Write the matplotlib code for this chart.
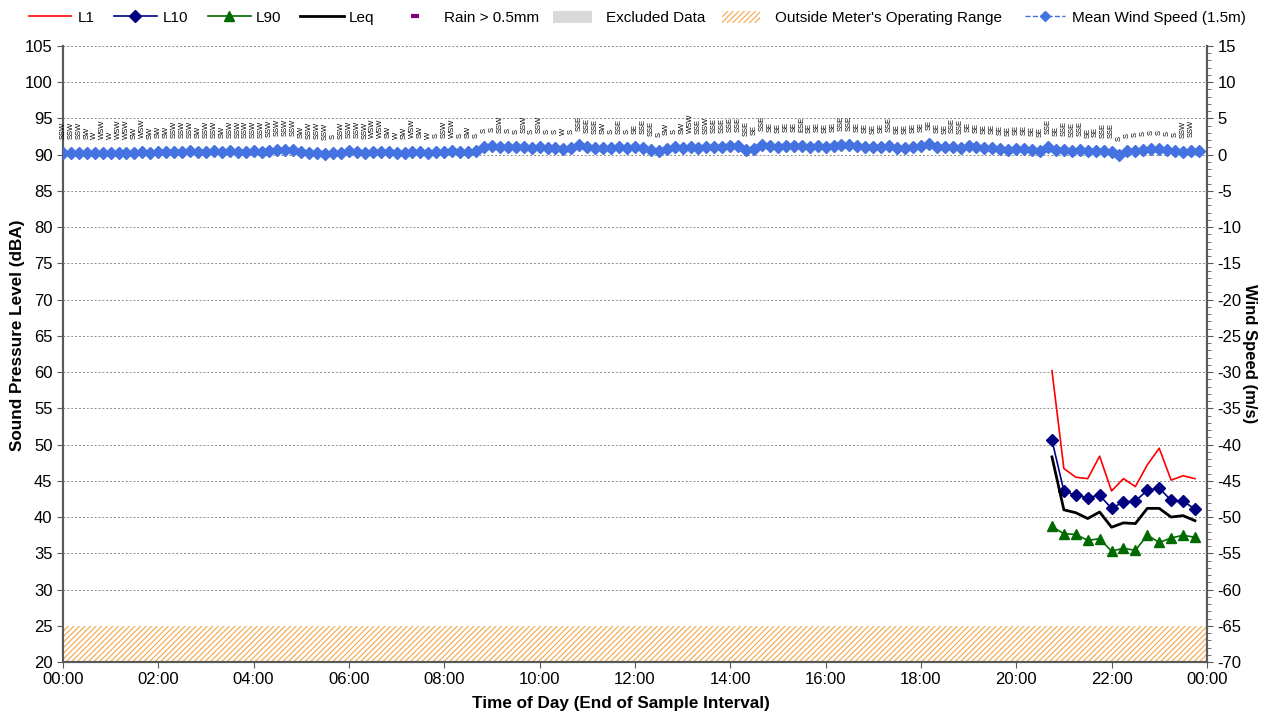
import matplotlib
matplotlib.use("Agg")
import matplotlib.pyplot as plt
import numpy as np
from matplotlib.lines import Line2D
from matplotlib.patches import Patch
from matplotlib.ticker import MultipleLocator

plt.rcParams["font.family"] = ["Liberation Sans", "DejaVu Sans"]
plt.rcParams["axes.unicode_minus"] = False
plt.rcParams["hatch.linewidth"] = 0.8

# sound levels, 15 minute intervals (end of interval)
sound_times = ["20:45", "21:00", "21:15", "21:30", "21:45", "22:00", "22:15",
               "22:30", "22:45", "23:00", "23:15", "23:30", "23:45"]
l1 = [60.2, 46.7, 45.5, 45.3, 48.4, 43.6, 45.3, 44.2, 47.2, 49.5, 45.1, 45.7, 45.3]
l10 = [50.6, 43.6, 43.0, 42.7, 43.0, 41.2, 42.1, 42.2, 43.7, 44.0, 42.3, 42.2, 41.1]
l90 = [38.7, 37.7, 37.6, 36.8, 37.0, 35.3, 35.7, 35.4, 37.5, 36.5, 37.1, 37.5, 37.2]
leq = [48.3, 41.0, 40.6, 39.8, 40.7, 38.6, 39.2, 39.1, 41.2, 41.2, 40.0, 40.2, 39.5]

# wind, 10 minute intervals from 00:00
wind_speed = [
    0.20, 0.25, 0.20, 0.30, 0.25, 0.20, 0.30, 0.30, 0.25, 0.30, 0.35, 0.30,
    0.35, 0.40, 0.35, 0.40, 0.45, 0.40, 0.40, 0.45, 0.40, 0.45, 0.40, 0.40,
    0.45, 0.40, 0.50, 0.60, 0.70, 0.60, 0.40, 0.30, 0.20, 0.15, 0.20, 0.30,
    0.45, 0.40, 0.30, 0.35, 0.40, 0.35, 0.30, 0.25, 0.35, 0.40, 0.30, 0.35,
    0.40, 0.45, 0.40, 0.35, 0.45, 1.10, 1.20, 1.05, 1.10, 1.00, 1.10, 0.95,
    1.05, 0.90, 0.95, 0.85, 0.90, 1.30, 1.10, 0.95, 0.90, 0.95, 1.00, 0.90,
    1.00, 0.95, 0.70, 0.50, 0.80, 1.00, 0.90, 1.10, 0.95, 1.00, 1.05, 1.10,
    1.20, 1.15, 0.65, 0.80, 1.30, 1.20, 1.10, 1.20, 1.15, 1.25, 1.10, 1.20,
    1.10, 1.20, 1.30, 1.35, 1.20, 1.10, 1.00, 1.10, 1.20, 0.90, 0.95, 1.10,
    1.20, 1.50, 1.10, 1.00, 1.05, 0.95, 1.15, 1.05, 0.90, 0.90, 0.80, 0.70,
    0.80, 0.80, 0.70, 0.55, 1.00, 0.70, 0.70, 0.55, 0.70, 0.45, 0.55, 0.45,
    0.35, 0.00, 0.45, 0.55, 0.70, 0.80, 0.80, 0.70, 0.55, 0.35, 0.55, 0.45,
]
wind_dir = [
    "SSW", "SSW", "SSW", "SW", "W", "WSW", "W", "WSW", "WSW", "SW", "WSW", "SW",
    "SW", "SW", "SSW", "SSW", "SSW", "SW", "SSW", "SSW", "SW", "SSW", "SSW", "SSW",
    "SSW", "SSW", "SSW", "SSW", "SSW", "SSW", "SW", "SSW", "SSW", "SSW", "S", "SSW",
    "SSW", "SSW", "SSW", "WSW", "WSW", "SW", "W", "SW", "WSW", "SW", "W", "S",
    "SSW", "WSW", "S", "SW", "S", "S", "S", "SSW", "S", "S", "SSW", "S",
    "SSW", "S", "S", "W", "S", "SSE", "SSE", "SSE", "SW", "S", "SSE", "S",
    "SE", "SSE", "SSE", "S", "SW", "S", "SW", "WSW", "SSE", "SSW", "SSE", "SSE",
    "SSE", "SSE", "SSE", "SE", "SSE", "SE", "SE", "SE", "SE", "ESE", "SE", "SE",
    "SE", "SE", "SSE", "SSE", "SE", "SE", "SE", "SE", "SSE", "SE", "SE", "SE",
    "SE", "SE", "SE", "SE", "SSE", "SSE", "SE", "SE", "SE", "SE", "SE", "SE",
    "SE", "SE", "SE", "SE", "SSE", "SE", "SSE", "SSE", "SSE", "SE", "SE", "SSE",
    "SSE", "S", "S", "S", "S", "S", "S", "S", "S", "SSW", "SSW", "",
]
wind_minutes = np.arange(0, 1440, 10)

x_ticks = ["00:00", "02:00", "04:00", "06:00", "08:00", "10:00", "12:00",
           "14:00", "16:00", "18:00", "20:00", "22:00", "00:00"]


def to_hours(label):
    h, m = label.split(":")
    return int(h) + int(m) / 60


st = [to_hours(t) for t in sound_times]
wt = wind_minutes / 60

W, H = 1264, 713
fig = plt.figure(figsize=(W / 100, H / 100), dpi=100)
ax = fig.add_axes([0.0498, 0.0715, 0.905, 0.864])
ax2 = ax.twinx()

hatch_col = "#F6A54A"
ax.axhspan(20, 25, facecolor="white", edgecolor=hatch_col, hatch="//////", lw=0, zorder=1)

ax.plot(st, l1, color="#FF0000", lw=1.2, zorder=4)
ax.plot(st, l10, color="#000080", lw=1.2, marker="D", ms=6.5, zorder=4)
ax.plot(st, l90, color="#006A00", lw=1.2, marker="^", ms=7.5, zorder=4)
ax.plot(st, leq, color="black", lw=2, zorder=4)

ax2.plot(wt, wind_speed, color="#4472E0", lw=1, ls="--", marker="D", ms=6, zorder=3)
for x, y, d in zip(wt, wind_speed, wind_dir):
    ax2.annotate(d, (x, y), xytext=(0, 10), textcoords="offset points",
                 rotation=90, ha="center", va="bottom", fontsize=5.5, color="black")

ax.set_xlim(0, 24)
ax.set_ylim(20, 105)
ax2.set_ylim(-70, 15)
ax.set_xticks(np.arange(0, 25, 2))
ax.set_xticklabels(x_ticks)
ax.yaxis.set_major_locator(MultipleLocator(5))
ax2.yaxis.set_major_locator(MultipleLocator(5))
ax2.yaxis.set_minor_locator(MultipleLocator(1))

ax.grid(axis="y", color="#8C8C8C", ls=(0, (2, 2)), lw=0.7)
ax.set_axisbelow(True)

for a in (ax, ax2):
    a.spines["top"].set_visible(False)
    for s in ("left", "right", "bottom"):
        a.spines[s].set_color("#595959")
        a.spines[s].set_linewidth(1.5)
    a.tick_params(labelsize=12, colors="black", length=4, color="#595959")
ax2.tick_params(which="minor", length=3, color="#595959")

ax.set_xlabel("Time of Day (End of Sample Interval)", fontsize=12.3, fontweight="bold")
ax.set_ylabel("Sound Pressure Level (dBA)", fontsize=12.3, fontweight="bold")
ax2.set_ylabel("Wind Speed (m/s)", fontsize=12, fontweight="bold", rotation=-90,
               ha="center", va="center")
ax.xaxis.set_label_coords(0.488, -0.055)
ax.yaxis.set_label_coords(-0.033, 0.53)
ax2.yaxis.set_label_coords(1.0376, 0.5)

# legend entries placed one by one along the top
legend_items = [
    (Line2D([], [], color="#FF0000", lw=1.2), "L1", 29, 2.75, 0.45),
    (Line2D([], [], color="#000080", lw=1.2, marker="D", ms=6), "L10", 114, 2.8, 0.4),
    (Line2D([], [], color="#006A00", lw=1.2, marker="^", ms=7), "L90", 208, 2.8, 0.35),
    (Line2D([], [], color="black", lw=2), "Leq", 300, 2.9, 0.3),
    (Line2D([], [], color="#800080", marker="_", ls="none", ms=6, mew=3), "Rain > 0.5mm", 400, 2.0, 0.85),
    (Patch(facecolor="#D9D9D9", edgecolor="none"), "Excluded Data", 553, 2.55, 0.9),
    (Patch(facecolor="white", edgecolor=hatch_col, hatch="//////", lw=0),
     "Outside Meter's Operating Range", 722, 2.5, 0.95),
    (Line2D([], [], color="#4472E0", lw=1, ls="--", marker="D", ms=5),
     "Mean Wind Speed (1.5m)", 1025, 2.6, 0.5),
]
for handle, label, x0, hl, tp in legend_items:
    fig.legend([handle], [label], loc="center left", bbox_to_anchor=(x0 / W, 1 - 18 / H),
               frameon=False, fontsize=11, borderpad=0, borderaxespad=0,
               handlelength=hl, handletextpad=tp, handleheight=0.9)

fig.savefig("out.png", dpi=100)
